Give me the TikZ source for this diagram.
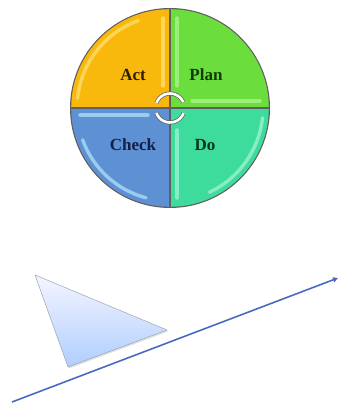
\documentclass[tikz,border=0pt]{standalone}
\usepackage{fontspec}
\setmainfont{Liberation Serif}
\usetikzlibrary{calc,arrows.meta}

\definecolor{actfill}{HTML}{F8B90C}
\definecolor{acthi}{HTML}{FFE27A}
\definecolor{planfill}{HTML}{6BDE3E}
\definecolor{planhi}{HTML}{B4F59A}
\definecolor{checkfill}{HTML}{5E90D4}
\definecolor{checkhi}{HTML}{B4E8F8}
\definecolor{dofill}{HTML}{3DDB9C}
\definecolor{dohi}{HTML}{A8F5DA}
\definecolor{rimcol}{HTML}{5F5F5F}
\definecolor{acttext}{HTML}{2E1E00}
\definecolor{plantext}{HTML}{103A08}
\definecolor{checktext}{HTML}{122048}
\definecolor{dotext}{HTML}{08361E}
\definecolor{axiscol}{HTML}{4A6AC2}
\definecolor{wedgeedge}{HTML}{9AA4B4}

\tikzset{
  label/.style={font=\fontsize{17}{17}\selectfont\bfseries, inner sep=0pt},
  gloss/.style={line width=3.4pt, line cap=round, opacity=0.7},
  ringarc/.style={draw=rimcol, line width=0.7pt, double=white, double distance=2.6pt},
}

\begin{document}
\begin{tikzpicture}[x=1pt,y=1pt]
\useasboundingbox (0,0) rectangle (339,403);

\coordinate (c) at (170,295);

% rim of the cycle wheel
\fill[rimcol] (c) circle (100);

% four quadrants separated by a thin gap
\begin{scope}
  \clip (c) circle (98.8);
  \fill[actfill]   ($(c)+(-101,1.4)$)  rectangle ($(c)+(-1.4,101)$);
  \fill[planfill]  ($(c)+(1.4,1.4)$)   rectangle ($(c)+(101,101)$);
  \fill[checkfill] ($(c)+(-101,-1.4)$) rectangle ($(c)+(-1.4,-101)$);
  \fill[dofill]    ($(c)+(1.4,-1.4)$)  rectangle ($(c)+(101,-101)$);
\end{scope}

% glossy inner bands
\draw[gloss, acthi] ($(c)+(110:93)$) arc (110:174:93);
\draw[gloss, acthi] ($(c)+(-7,22)$) -- ($(c)+(-7,90)$);
\draw[gloss, planhi] ($(c)+(7,22)$) -- ($(c)+(7,90)$);
\draw[gloss, planhi] ($(c)+(22,7)$) -- ($(c)+(90,7)$);
\draw[gloss, checkhi] ($(c)+(-22,-7)$) -- ($(c)+(-90,-7)$);
\draw[gloss, checkhi] ($(c)+(255:93)$) arc (255:200:93);
\draw[gloss, dohi] ($(c)+(7,-22)$) -- ($(c)+(7,-90)$);
\draw[gloss, dohi] ($(c)+(295:93)$) arc (-65:-6:93);

% circular arrows in the hub
\draw[ringarc] ($(c)+(24:14.5)$) arc (24:160:14.5);
\draw[ringarc] ($(c)+(200:14.5)$) arc (200:340:14.5);

% quadrant labels
\node[label, text=acttext]   (act)   at ($(c)+(-37,33)$)  {Act};
\node[label, text=plantext]  (plan)  at ($(c)+(36,33)$)   {Plan};
\node[label, text=checktext] (check) at ($(c)+(-37,-37)$) {Check};
\node[label, text=dotext]    (do)    at ($(c)+(35,-37)$)  {Do};

% wedge resting above the rising axis
\coordinate (w1) at (35,128);
\coordinate (w2) at (167,73);
\coordinate (w3) at (68,36);
\fill[black!25, opacity=0.5] ($(w1)+(1,-1.5)$) -- ($(w2)+(1,-1.5)$) -- ($(w3)+(1,-1.5)$) -- cycle;
\shade[top color=blue!4!white, bottom color=blue!22!white!88!cyan, draw=wedgeedge, line width=0.5pt]
  (w1) -- (w2) -- (w3) -- cycle;

% rising axis
\coordinate (a0) at (12,1);
\coordinate (a1) at (338,125);
\draw[axiscol, line width=1.6pt, -{Triangle[length=5pt,width=5pt]}] (a0) -- (a1);
\end{tikzpicture}
\end{document}
